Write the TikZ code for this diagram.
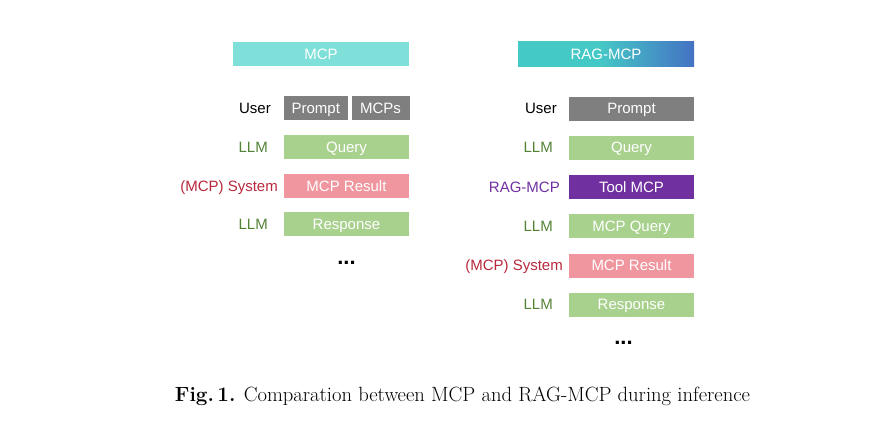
\documentclass[tikz,border=0pt]{standalone}
\usepackage{fontspec}
\newfontfamily\arialf{Liberation Sans}
\definecolor{mcpteal}{HTML}{7FDFD9}
\definecolor{ragteal}{HTML}{45C9C6}
\definecolor{ragblue}{HTML}{4472C4}
\definecolor{boxgray}{HTML}{7F7F7F}
\definecolor{boxgreen}{HTML}{A9D18E}
\definecolor{boxpink}{HTML}{F0969F}
\definecolor{boxpurple}{HTML}{7030A0}
\definecolor{txtgreen}{HTML}{548235}
\definecolor{txtred}{HTML}{B8283C}
\definecolor{txtpurple}{HTML}{7030A0}
\pgfdeclarehorizontalshading{raggrad}{100bp}{color(0bp)=(ragteal); color(25bp)=(ragteal); color(48bp)=(ragteal); color(75bp)=(ragblue); color(100bp)=(ragblue)}
\tikzset{
  bx/.style={minimum height=24pt, inner sep=0pt, text=white, font=\arialf\fontsize{15}{17}\selectfont, text height=10.7pt, text depth=0pt},
  lbl/.style={anchor=east, inner sep=0pt, font=\arialf\fontsize{15}{17}\selectfont, text height=10.7pt, text depth=0pt},
  dotsn/.style={inner sep=0pt, font=\arialf\bfseries\fontsize{22}{24}\selectfont}
}
\begin{document}
\begin{tikzpicture}[x=1pt,y=-1pt]
\path[use as bounding box] (0,0) rectangle (877,428);
% left: MCP
\node[bx, fill=mcpteal, minimum width=176pt] (mcph) at (321,54) {MCP};
\node[bx, fill=boxgray, minimum width=64pt] (p1) at (315.8,108) {Prompt};
\node[bx, fill=boxgray, minimum width=58pt] (m1) at (380.5,108) {MCPs};
\node[bx, fill=boxgreen, minimum width=125pt] (q1) at (346.5,147) {Query};
\node[bx, fill=boxpink, minimum width=125pt] (r1) at (346.5,186) {MCP Result};
\node[bx, fill=boxgreen, minimum width=125pt] (s1) at (346.5,224.3) {Response};
\node[dotsn] (d1) at (346.5,262.5) {...};
\node[lbl] (lu1) at (271,108) {User};
\node[lbl, text=txtgreen] (ll1) at (268,147) {LLM};
\node[lbl, text=txtred] (ls1) at (278,186) {(MCP) System};
\node[lbl, text=txtgreen] (ll1b) at (268,224.3) {LLM};
% right: RAG-MCP
\node[bx, shading=raggrad, minimum width=176pt] (ragh) at (606,54) {RAG-MCP};
\node[bx, fill=boxgray, minimum width=125pt] (p2) at (631.5,108.5) {Prompt};
\node[bx, fill=boxgreen, minimum width=125pt] (q2) at (631.5,147.5) {Query};
\node[bx, fill=boxpurple, minimum width=125pt] (t2) at (631.5,187) {Tool MCP};
\node[bx, fill=boxgreen, minimum width=125pt] (mq2) at (631.5,226) {MCP Query};
\node[bx, fill=boxpink, minimum width=125pt] (r2) at (631.5,265.5) {MCP Result};
\node[bx, fill=boxgreen, minimum width=125pt] (s2) at (631.5,304.5) {Response};
\node[dotsn] (d2) at (623.5,342.5) {...};
\node[lbl] (lu2) at (557,108.5) {User};
\node[lbl, text=txtgreen] (ll2) at (553,147.5) {LLM};
\node[lbl, text=txtpurple] (lr2) at (560,187) {RAG-MCP};
\node[lbl, text=txtgreen] (ll2b) at (553,226) {LLM};
\node[lbl, text=txtred] (ls2) at (563,265.5) {(MCP) System};
\node[lbl, text=txtgreen] (ll2c) at (553,304.5) {LLM};
% caption
\node[inner sep=0pt, font=\fontsize{20.6}{24}\selectfont] (cap) at (462.5,396) {\textbf{Fig.\,1.} Comparation between MCP and RAG-MCP during inference};
\end{tikzpicture}
\end{document}
